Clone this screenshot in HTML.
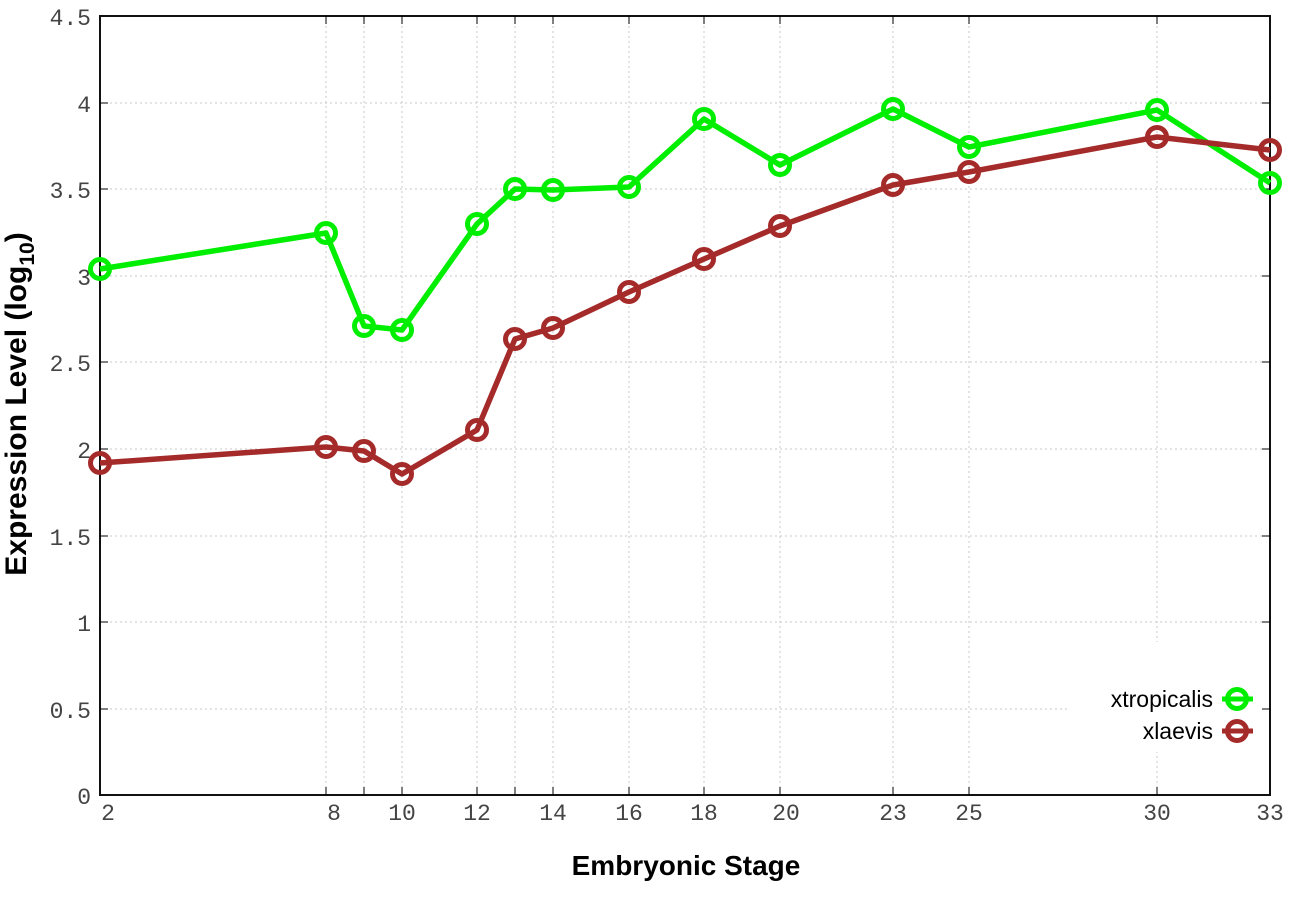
<!DOCTYPE html>
<html><head><style>body{margin:0;background:#fff}</style></head><body>
<svg width="1296" height="907" xmlns="http://www.w3.org/2000/svg">
<rect width="1296" height="907" fill="#fff"/>
<g stroke="#c8c8c8" stroke-width="1" stroke-dasharray="2,3">
<line x1="100" x2="1270" y1="709" y2="709"/><line x1="100" x2="1270" y1="622" y2="622"/>
<line x1="100" x2="1270" y1="536" y2="536"/><line x1="100" x2="1270" y1="449" y2="449"/>
<line x1="100" x2="1270" y1="362" y2="362"/><line x1="100" x2="1270" y1="276" y2="276"/>
<line x1="100" x2="1270" y1="189" y2="189"/><line x1="100" x2="1270" y1="103" y2="103"/>
<line x1="326" x2="326" y1="16" y2="795"/><line x1="364" x2="364" y1="16" y2="795"/>
<line x1="402" x2="402" y1="16" y2="795"/><line x1="477" x2="477" y1="16" y2="795"/>
<line x1="515" x2="515" y1="16" y2="795"/><line x1="553" x2="553" y1="16" y2="795"/>
<line x1="629" x2="629" y1="16" y2="795"/><line x1="704" x2="704" y1="16" y2="795"/>
<line x1="780" x2="780" y1="16" y2="795"/><line x1="893" x2="893" y1="16" y2="795"/>
<line x1="969" x2="969" y1="16" y2="795"/><line x1="1157" x2="1157" y1="16" y2="795"/>
</g>
<rect x="1070" y="642" width="195" height="110" fill="#fff"/>
<rect x="100" y="16" width="1170" height="779" fill="none" stroke="#111" stroke-width="2"/>
<g stroke="#000" stroke-width="1">
<path d="M100 709h8M100 622h8M100 536h8M100 449h8M100 362h8M100 276h8M100 189h8M100 103h8M1270 709h-8M1270 622h-8M1270 536h-8M1270 449h-8M1270 362h-8M1270 276h-8M1270 189h-8M1270 103h-8"/>
<path d="M326 795v-8M364 795v-8M402 795v-8M477 795v-8M515 795v-8M553 795v-8M629 795v-8M704 795v-8M780 795v-8M893 795v-8M969 795v-8M1157 795v-8M326 16v8M364 16v8M402 16v8M477 16v8M515 16v8M553 16v8M629 16v8M704 16v8M780 16v8M893 16v8M969 16v8M1157 16v8"/>
</g>
<g font-family="Liberation Mono, monospace" font-size="23" fill="#444" text-anchor="end">
<text x="91" y="804">0</text><text x="91" y="718">0.5</text><text x="91" y="631">1</text>
<text x="91" y="545">1.5</text><text x="91" y="458">2</text><text x="91" y="371">2.5</text>
<text x="91" y="285">3</text><text x="91" y="198">3.5</text><text x="91" y="112">4</text><text x="91" y="25">4.5</text>
</g>
<g font-family="Liberation Mono, monospace" font-size="23" fill="#444" text-anchor="middle">
<text x="108" y="820">2</text><text x="334" y="820">8</text><text x="402" y="820">10</text>
<text x="477" y="820">12</text><text x="553" y="820">14</text><text x="629" y="820">16</text>
<text x="704" y="820">18</text><text x="786" y="820">20</text><text x="893" y="820">23</text>
<text x="969" y="820">25</text><text x="1157" y="820">30</text><text x="1270" y="820">33</text>
</g>
<text x="686" y="875" font-family="Liberation Sans, sans-serif" font-size="28" font-weight="bold" text-anchor="middle">Embryonic Stage</text>
<text transform="translate(26,404) rotate(-90)" font-family="Liberation Sans, sans-serif" font-size="30" font-weight="bold" text-anchor="middle">Expression Level (log<tspan font-size="21" dy="8">10</tspan><tspan dy="-8">)</tspan></text>
<g fill="none" stroke-width="5.5" stroke-linejoin="round">
<polyline stroke="#00ee00" points="100,269 326,233 364,326 402,330 477,224 515,189 553,190 629,187 704,119 780,165 893,109 969,147 1157,110 1270,183"/>
<polyline stroke="#a52a2a" points="100,463 326,447 364,451 402,474 477,430 515,339 553,328 629,292 704,259 780,226 893,185 969,172 1157,137 1270,150"/>
<g stroke="#00ee00" stroke-width="5">
<circle cx="100" cy="269" r="9.5"/><circle cx="326" cy="233" r="9.5"/><circle cx="364" cy="326" r="9.5"/><circle cx="402" cy="330" r="9.5"/><circle cx="477" cy="224" r="9.5"/><circle cx="515" cy="189" r="9.5"/><circle cx="553" cy="190" r="9.5"/><circle cx="629" cy="187" r="9.5"/><circle cx="704" cy="119" r="9.5"/><circle cx="780" cy="165" r="9.5"/><circle cx="893" cy="109" r="9.5"/><circle cx="969" cy="147" r="9.5"/><circle cx="1157" cy="110" r="9.5"/><circle cx="1270" cy="183" r="9.5"/>
<line x1="1222" x2="1253" y1="699" y2="699"/><circle cx="1237" cy="699" r="9.5"/>
</g>
<g stroke="#a52a2a" stroke-width="5">
<circle cx="100" cy="463" r="9.5"/><circle cx="326" cy="447" r="9.5"/><circle cx="364" cy="451" r="9.5"/><circle cx="402" cy="474" r="9.5"/><circle cx="477" cy="430" r="9.5"/><circle cx="515" cy="339" r="9.5"/><circle cx="553" cy="328" r="9.5"/><circle cx="629" cy="292" r="9.5"/><circle cx="704" cy="259" r="9.5"/><circle cx="780" cy="226" r="9.5"/><circle cx="893" cy="185" r="9.5"/><circle cx="969" cy="172" r="9.5"/><circle cx="1157" cy="137" r="9.5"/><circle cx="1270" cy="150" r="9.5"/>
<line x1="1222" x2="1253" y1="731" y2="731"/><circle cx="1237" cy="731" r="9.5"/>
</g>
</g>
<g font-family="Liberation Sans, sans-serif" font-size="23" fill="#000" text-anchor="end">
<text x="1213" y="707">xtropicalis</text><text x="1213" y="739">xlaevis</text>
</g>
</svg>
</body></html>
